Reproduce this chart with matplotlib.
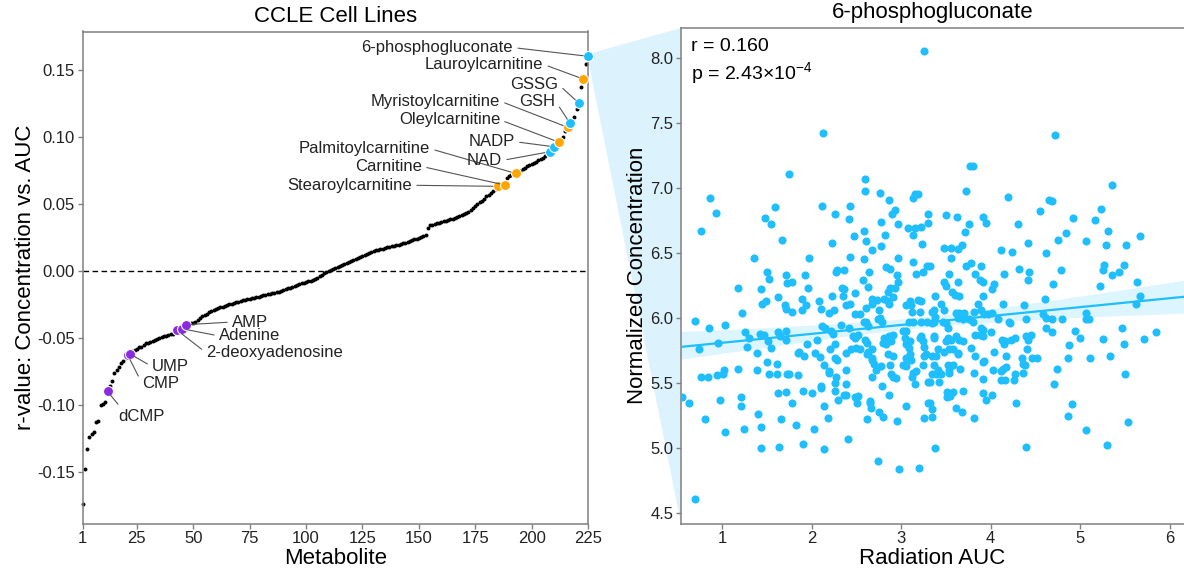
import matplotlib
matplotlib.use("Agg")
import matplotlib.pyplot as plt
from matplotlib.patches import Polygon
import numpy as np
import seaborn as sns

plt.rcParams['font.family'] = ['Liberation Sans', 'DejaVu Sans']
plt.rcParams['mathtext.fontset'] = 'custom'
plt.rcParams['mathtext.rm'] = 'Liberation Sans'

# sorted r-values (concentration vs radiation AUC), rank 1..225
r_values = [
    -0.174, -0.148, -0.133, -0.124, -0.122, -0.120, -0.113, -0.112, -0.100, -0.099,
    -0.098, -0.090, -0.086, -0.082, -0.076, -0.074, -0.0715, -0.069, -0.067, -0.065,
    -0.063, -0.062, -0.060, -0.059, -0.058, -0.057, -0.0565, -0.055, -0.054, -0.0535,
    -0.053, -0.052, -0.0515, -0.051, -0.050, -0.0495, -0.049, -0.0485, -0.048, -0.0475,
    -0.047, -0.046, -0.0445, -0.0440, -0.0432, -0.0415, -0.0402, -0.0398, -0.0393, -0.0388,
    -0.0382, -0.0370, -0.0355, -0.0340, -0.0330, -0.0320, -0.0310, -0.0300, -0.0290, -0.0285,
    -0.0280, -0.0272, -0.0268, -0.0262, -0.0256, -0.0250, -0.0245, -0.0240, -0.0236, -0.0231,
    -0.0226, -0.0221, -0.0216, -0.0212, -0.0208, -0.0204, -0.0200, -0.0196, -0.0192, -0.0188,
    -0.0184, -0.0180, -0.0176, -0.0172, -0.0168, -0.0164, -0.0160, -0.0155, -0.0150, -0.0143,
    -0.0137, -0.0131, -0.0125, -0.0118, -0.0111, -0.0104, -0.0099, -0.0094, -0.0089, -0.0084,
    -0.0079, -0.0073, -0.0066, -0.0060, -0.0050, -0.0040, -0.0030, -0.0020, -0.0010, 0.0000,
    0.0008, 0.0016, 0.0024, 0.0031, 0.0038, 0.0046, 0.0054, 0.0061, 0.0068, 0.0075,
    0.0082, 0.0090, 0.0098, 0.0105, 0.0112, 0.0120, 0.0128, 0.0136, 0.0143, 0.0150,
    0.0154, 0.0158, 0.0162, 0.0166, 0.0170, 0.0174, 0.0178, 0.0182, 0.0186, 0.0190,
    0.0195, 0.0200, 0.0206, 0.0211, 0.0217, 0.0222, 0.0228, 0.0234, 0.0240, 0.0246,
    0.0252, 0.0258, 0.0270, 0.0320, 0.0340, 0.0345, 0.0350, 0.0355, 0.0360, 0.0365,
    0.0370, 0.0375, 0.0380, 0.0385, 0.0390, 0.0395, 0.0400, 0.0408, 0.0414, 0.0420,
    0.0430, 0.0440, 0.0455, 0.0470, 0.0482, 0.0496, 0.0510, 0.0522, 0.0538, 0.0555,
    0.0568, 0.0582, 0.0598, 0.0612, 0.0630, 0.0632, 0.0636, 0.0640, 0.0690, 0.0708,
    0.0714, 0.0720, 0.0726, 0.0734, 0.0745, 0.0756, 0.0767, 0.0778, 0.0789, 0.0798,
    0.0806, 0.0815, 0.0823, 0.0832, 0.0845, 0.0858, 0.0870, 0.0888, 0.0902, 0.0925,
    0.0938, 0.0960, 0.0980, 0.1000, 0.1040, 0.1070, 0.1100, 0.1120, 0.1150, 0.1210,
    0.1250, 0.1370, 0.1430, 0.1540, 0.1600,
]

# highlighted metabolites: name, rank, group, label position (rank, r)
hl_names = ['dCMP', 'CMP', 'UMP', '2-deoxyadenosine', 'Adenine', 'AMP',
            'Stearoylcarnitine', 'Carnitine', 'Palmitoylcarnitine', 'NAD', 'NADP',
            'Oleylcarnitine', 'Myristoylcarnitine', 'GSH', 'GSSG',
            'Lauroylcarnitine', '6-phosphogluconate']
hl_ranks = [12, 21, 22, 43, 45, 47, 185, 188, 193, 208, 210, 212, 216, 217, 221, 223, 225]
hl_groups = ['nuc', 'nuc', 'nuc', 'nuc', 'nuc', 'nuc', 'carn', 'carn', 'carn', 'redox', 'redox',
             'carn', 'carn', 'redox', 'redox', 'carn', 'redox']
lab_x = [16.6, 27.3, 31.7, 55.7, 61.4, 67.2, 147.0, 151.4, 155.0, 186.9, 192.6,
         186.0, 186.0, 210.6, 211.9, 205.2, 191.8]
lab_y = [-0.1084, -0.0840, -0.0715, -0.0611, -0.0486, -0.0382, 0.0638, 0.0778, 0.0911, 0.0823, 0.0963,
         0.1126, 0.1266, 0.1266, 0.1390, 0.1540, 0.1665]
group_colors = {'nuc': '#8A2BE2', 'carn': '#FFA500', 'redox': '#1EBEFF'}

# 6-phosphogluconate: (radiation AUC, normalized concentration) per cell line
points = [
    (3.26, 8.05), (2.13, 7.42), (1.75, 7.11), (0.87, 6.92), (0.93, 6.81), (0.76, 6.67),
    (2.60, 7.07), (2.60, 6.98), (2.76, 6.96), (2.86, 6.91), (3.13, 6.92), (3.15, 6.95),
    (3.19, 6.95), (2.12, 6.86), (2.26, 6.80), (2.43, 6.86), (2.42, 6.76), (2.93, 6.83),
    (2.90, 6.80), (1.48, 6.77), (1.59, 6.85), (1.55, 6.72), (2.78, 6.74), (2.96, 6.72),
    (3.08, 6.69), (3.16, 6.69), (3.22, 6.70), (3.30, 6.80), (3.30, 6.73), (2.58, 6.67),
    (2.47, 6.63), (2.82, 6.64), (3.13, 6.64), (2.61, 6.59), (2.23, 6.58), (1.67, 6.60),
    (2.78, 6.55), (3.23, 6.57), (2.67, 6.52), (1.36, 6.46), (1.97, 6.46), (2.43, 6.47),
    (2.59, 6.45), (2.96, 6.46), (3.13, 6.43), (2.83, 6.39), (2.88, 6.38), (3.29, 6.40),
    (2.28, 6.37), (2.36, 6.37), (2.27, 6.35), (1.50, 6.35), (1.72, 6.33), (1.93, 6.33),
    (2.64, 6.35), (2.95, 6.33), (3.17, 6.34), (3.24, 6.35),
    (4.72, 7.41), (3.77, 7.17), (3.80, 7.17), (3.73, 6.98), (4.19, 6.93), (5.35, 7.02),
    (4.65, 6.91), (4.68, 6.90), (4.55, 6.82), (5.23, 6.84), (4.92, 6.77), (5.16, 6.75),
    (5.31, 6.67), (5.67, 6.63), (3.50, 6.79), (3.62, 6.78), (3.91, 6.78), (3.76, 6.72),
    (3.95, 6.73), (4.31, 6.72), (3.71, 6.66), (4.75, 6.60), (4.84, 6.65), (5.06, 6.59),
    (4.42, 6.58), (5.29, 6.56), (5.51, 6.56), (3.48, 6.54), (3.56, 6.54), (3.63, 6.53),
    (3.68, 6.56), (3.56, 6.46), (4.12, 6.52), (4.24, 6.51), (4.62, 6.50), (3.32, 6.40),
    (3.72, 6.40), (3.78, 6.42), (3.89, 6.40), (4.32, 6.38), (4.79, 6.37), (5.27, 6.41),
    (5.25, 6.37), (5.49, 6.41), (5.43, 6.35), (5.35, 6.33), (3.54, 6.34), (3.82, 6.34),
    (4.15, 6.34), (4.43, 6.35),
    (0.70, 4.61), (0.70, 5.98), (0.74, 5.76), (0.85, 5.92), (1.03, 5.95), (0.95, 5.81),
    (0.77, 5.55), (0.84, 5.55), (0.94, 5.56), (1.01, 5.57), (1.02, 5.60), (1.18, 5.61),
    (0.55, 5.39), (0.63, 5.35), (0.98, 5.37), (1.21, 5.39), (1.21, 5.32), (0.81, 5.22),
    (1.03, 5.12), (1.24, 5.15), (1.40, 5.26), (1.44, 5.16), (1.43, 5.00), (1.64, 5.01),
    (1.90, 5.03), (2.14, 4.99), (2.41, 5.07), (2.74, 4.90), (2.98, 4.84), (3.20, 4.85),
    (1.66, 5.22), (1.83, 5.18), (2.03, 5.15), (2.18, 5.23), (2.14, 5.32),
    (1.18, 6.23), (1.43, 6.22), (1.22, 6.04), (1.45, 6.11), (1.49, 6.13), (1.63, 6.16),
    (1.52, 6.30), (1.73, 6.27), (1.78, 6.28), (1.70, 6.10), (1.72, 6.07), (1.78, 6.05),
    (1.89, 6.15), (1.89, 6.06), (1.96, 6.23), (1.94, 6.10), (2.08, 6.13), (2.11, 6.07),
    (2.23, 6.17), (2.20, 6.04), (2.25, 6.06), (2.34, 6.23), (2.36, 6.22), (2.35, 6.17),
    (2.39, 6.10), (2.43, 6.11), (2.48, 6.19), (2.49, 6.03), (2.54, 6.03), (2.57, 6.29),
    (2.63, 6.24), (2.61, 6.08), (2.67, 6.15), (2.68, 6.11), (2.73, 6.14), (2.75, 6.06),
    (2.76, 6.00), (2.74, 5.99), (2.79, 5.97), (2.85, 6.20), (2.87, 6.11), (2.85, 6.13),
    (2.81, 6.15), (2.91, 6.16), (2.88, 6.23), (2.93, 6.23), (2.96, 6.28), (3.06, 6.10),
    (3.10, 6.13), (3.11, 6.10), (3.12, 6.05), (3.09, 5.97), (3.13, 5.97), (3.19, 6.14),
    (3.22, 6.13), (3.21, 6.05), (3.22, 5.97), (3.29, 5.97),
    (1.26, 5.89), (1.30, 5.85), (1.28, 5.78), (1.42, 5.88), (1.47, 5.87), (1.51, 5.82),
    (1.55, 5.77), (1.39, 5.73), (1.63, 5.89), (1.65, 5.86), (1.72, 5.90), (1.72, 5.83),
    (1.50, 5.66), (1.39, 5.60), (1.61, 5.65), (1.61, 5.57), (1.53, 5.57), (1.73, 5.57),
    (1.75, 5.57), (1.85, 5.56), (1.62, 5.42), (1.72, 5.43), (1.78, 5.35), (1.90, 5.44),
    (2.00, 5.42), (1.85, 5.73), (1.86, 5.74), (1.91, 5.71), (1.95, 5.80), (2.06, 5.83),
    (2.04, 5.73), (2.09, 5.70), (2.14, 5.64), (2.19, 5.59), (2.19, 5.58), (2.10, 5.48),
    (2.11, 5.46), (2.12, 5.94), (2.15, 5.92), (2.22, 5.90), (2.24, 5.88), (2.26, 5.80),
    (2.21, 5.76), (2.26, 5.69), (2.28, 5.68), (2.27, 5.55), (2.26, 5.50), (2.26, 5.44),
    (2.30, 5.37), (2.33, 5.95), (2.38, 5.60), (2.39, 5.49), (2.36, 5.41), (2.39, 5.41),
    (2.38, 5.73), (2.44, 5.76), (2.42, 5.92), (2.46, 5.86), (2.49, 5.85), (2.52, 5.87),
    (2.50, 5.77), (2.54, 5.76), (2.49, 5.39), (2.51, 5.35), (2.52, 5.40), (2.61, 5.97),
    (2.63, 5.94), (2.59, 5.97), (2.60, 5.83), (2.62, 5.81), (2.62, 5.72), (2.63, 5.74),
    (2.65, 5.36), (2.65, 5.35), (2.62, 5.22), (2.66, 5.31), (2.67, 5.76), (2.68, 5.69),
    (2.67, 5.68), (2.70, 5.65), (2.72, 5.60), (2.68, 5.55), (2.75, 5.28), (2.80, 5.24),
    (2.79, 5.48), (2.78, 5.63), (2.80, 5.81), (2.83, 5.80), (2.81, 5.85), (2.85, 5.83),
    (2.87, 5.86), (2.89, 5.82), (2.91, 5.87), (2.85, 5.72), (2.91, 5.71), (2.88, 5.64),
    (2.91, 5.55), (2.89, 5.57), (2.94, 5.54), (2.87, 5.41), (2.95, 5.21), (3.02, 5.90),
    (3.04, 5.85), (3.06, 5.90), (3.06, 5.80), (3.09, 5.77), (3.10, 5.82), (3.02, 5.64),
    (3.05, 5.63), (3.06, 5.69), (3.08, 5.68), (3.11, 5.68), (3.10, 5.72), (3.13, 5.58),
    (3.12, 5.55), (3.16, 5.49), (3.06, 5.32), (3.17, 5.59), (3.21, 5.85), (3.22, 5.86),
    (3.24, 5.82), (3.26, 5.78), (3.24, 5.64), (3.26, 5.71), (3.28, 5.72), (3.30, 5.51),
    (3.30, 5.35), (3.26, 5.23),
    (3.48, 6.28), (3.50, 6.25), (3.64, 6.28), (3.38, 6.17), (3.57, 6.20), (3.60, 6.18),
    (3.65, 6.17), (3.44, 6.11), (3.34, 6.05), (3.37, 6.06), (3.38, 6.01), (3.34, 5.96),
    (3.37, 5.97), (3.48, 6.06), (3.47, 5.97), (3.50, 5.96), (3.52, 5.92), (3.61, 6.04),
    (3.65, 6.04), (3.70, 6.04), (3.63, 6.00), (3.69, 5.99), (3.76, 5.99), (3.80, 5.97),
    (3.81, 6.05), (3.89, 6.06), (3.86, 6.11), (3.91, 6.17), (3.88, 6.29), (3.91, 6.28),
    (4.01, 6.22), (4.04, 6.26), (4.42, 6.29), (4.70, 6.26), (5.22, 6.25), (5.63, 6.28),
    (5.67, 6.17), (5.62, 6.11), (4.61, 6.15), (4.14, 6.11), (4.37, 6.10), (3.93, 6.03),
    (3.97, 6.03), (4.01, 6.04), (4.08, 5.99), (3.91, 5.91), (3.89, 5.92), (3.82, 5.87),
    (3.88, 5.87), (3.91, 5.86), (4.00, 5.89), (4.22, 5.96), (4.21, 5.97), (4.40, 5.99),
    (4.59, 6.03), (4.62, 6.00), (4.68, 5.99), (4.80, 5.99), (5.06, 6.04), (5.06, 5.99),
    (5.10, 5.99), (4.62, 5.92), (4.69, 5.89), (4.94, 5.90), (5.00, 5.85), (5.25, 5.84),
    (5.47, 5.92), (5.49, 5.80), (5.71, 5.84), (5.85, 5.89), (3.37, 5.86), (3.37, 5.85),
    (3.52, 5.85), (3.50, 5.82), (3.56, 5.83), (3.61, 5.86), (3.65, 5.83), (3.69, 5.82),
    (3.41, 5.76), (3.48, 5.74), (3.53, 5.76), (3.58, 5.76), (3.63, 5.73), (3.64, 5.72),
    (3.34, 5.71), (3.39, 5.71), (3.78, 5.77), (3.83, 5.71), (4.04, 5.74), (4.13, 5.83),
    (4.15, 5.80), (4.16, 5.82), (4.23, 5.83), (4.27, 5.85), (4.40, 5.86), (4.42, 5.83),
    (4.45, 5.87), (4.41, 5.76), (4.17, 5.71), (4.35, 5.69), (4.36, 5.65), (4.38, 5.64),
    (4.46, 5.69), (4.52, 5.69), (3.91, 5.66), (3.93, 5.67), (4.03, 5.60), (4.14, 5.61),
    (4.12, 5.59), (4.17, 5.62), (4.27, 5.57), (4.36, 5.58), (4.11, 5.52), (4.16, 5.52),
    (4.26, 5.52), (3.91, 5.53), (3.81, 5.58), (3.66, 5.61), (3.37, 5.64), (3.41, 5.60),
    (3.45, 5.57), (3.39, 5.57), (3.35, 5.57), (3.32, 5.51), (3.42, 5.51), (3.52, 5.64),
    (3.58, 5.64), (3.53, 5.60), (3.54, 5.58), (3.51, 5.43), (3.58, 5.43), (3.51, 5.39),
    (3.55, 5.40), (3.69, 5.44), (3.32, 5.35), (3.34, 5.30), (3.34, 5.24), (3.61, 5.31),
    (3.68, 5.28), (3.81, 5.23), (3.91, 5.42), (3.95, 5.37), (4.01, 5.41), (4.28, 5.35),
    (4.74, 5.61), (4.71, 5.49), (4.86, 5.69), (4.88, 5.79), (5.11, 5.69), (5.33, 5.71),
    (5.50, 5.57), (4.91, 5.34), (4.86, 5.25), (5.53, 5.20), (5.06, 5.14), (5.30, 5.02),
    (4.39, 5.01), (3.38, 5.00),
]
auc = np.array([p[0] for p in points])
conc = np.array([p[1] for p in points])

fig = plt.figure(figsize=(11.84, 5.71), dpi=100)
W, H = 1184, 571
ax1 = fig.add_axes([82.7 / W, 1 - 523.5 / H, 505.3 / W, 492 / H])
ax2 = fig.add_axes([681 / W, 1 - 523.5 / H, 503 / W, 495.5 / H])

spine_c = '#808080'

# ---- left panel: ranked r-values
ranks = np.arange(1, len(r_values) + 1)
r_arr = np.array(r_values)
ax1.axhline(0, color='black', ls='--', lw=1, dashes=(4, 2.5), zorder=1)
ax1.scatter(ranks, r_arr, s=8, color='black', linewidths=0, zorder=2, clip_on=False)
for name, rk, grp, tx, ty in zip(hl_names, hl_ranks, hl_groups, lab_x, lab_y):
    yv = r_arr[rk - 1]
    ax1.scatter([rk], [yv], s=52, color=group_colors[grp], edgecolors='white',
                linewidths=0.8, zorder=3, clip_on=False)
    left_side = tx < rk
    if name == 'dCMP':
        rp = (0.08, 1.0)
    else:
        rp = (1, 0.5) if left_side else (0, 0.5)
    ax1.annotate(name, xy=(rk, yv), xytext=(tx, ty), fontsize=12,
                 ha='right' if left_side else 'left', va='center', color='#222222',
                 arrowprops=dict(arrowstyle='-', color='#555555', lw=0.8,
                                 shrinkA=1.5, shrinkB=3.5, relpos=rp), zorder=4)

ax1.set_xlim(1, 225)
ax1.set_ylim(-0.1885, 0.1785)
ax1.set_xticks([1, 25, 50, 75, 100, 125, 150, 175, 200, 225])
ax1.set_yticks([-0.15, -0.10, -0.05, 0.00, 0.05, 0.10, 0.15])
ax1.yaxis.set_major_formatter(matplotlib.ticker.FormatStrFormatter('%.2f'))
ax1.set_title('CCLE Cell Lines', fontsize=16, pad=7)
ax1.set_xlabel('Metabolite', fontsize=16, labelpad=1)
ax1.set_ylabel('r-value: Concentration vs. AUC', fontsize=16, labelpad=1)

# ---- right panel: scatter with regression fit
ax2.set_xlim(0.542, 6.159)
ax2.set_ylim(4.42, 8.23)
sns.regplot(x=auc, y=conc, ax=ax2, color='#1EBEFF', ci=95, seed=0, truncate=False,
            scatter_kws=dict(s=34, alpha=1, linewidths=0, zorder=3),
            line_kws=dict(lw=1.6, zorder=4))
ax2.set_xlim(0.542, 6.159)
ax2.set_ylim(4.42, 8.23)
ax2.set_xticks([1, 2, 3, 4, 5, 6])
ax2.set_yticks([4.5, 5.0, 5.5, 6.0, 6.5, 7.0, 7.5, 8.0])
ax2.yaxis.set_major_formatter(matplotlib.ticker.FormatStrFormatter('%.1f'))
ax2.spines['right'].set_visible(False)
ax2.set_title('6-phosphogluconate', fontsize=16, pad=7)
ax2.set_xlabel('Radiation AUC', fontsize=16, labelpad=1)
ax2.set_ylabel('Normalized Concentration', fontsize=16, labelpad=2)
ax2.text(0.02, 0.962, 'r = 0.160', transform=ax2.transAxes, fontsize=14, va='center')
ax2.text(0.02, 0.908, r'p = 2.43×10$^{-4}$', transform=ax2.transAxes, fontsize=14, va='center')

for ax in (ax1, ax2):
    for sp in ax.spines.values():
        sp.set_color(spine_c)
        sp.set_linewidth(1.1)
    ax.tick_params(axis='both', labelsize=12, color=spine_c, length=3.5, width=1,
                   labelcolor='#222222', pad=2)

# ---- zoom cone linking the 6-phosphogluconate point to the right panel
to_fig = fig.transFigure.inverted()
p_top = to_fig.transform(ax1.transData.transform((225, 0.1617)))
p_bot = to_fig.transform(ax1.transData.transform((225, 0.1575)))
q_top = to_fig.transform(ax2.transAxes.transform((0, 1)))
q_bot = to_fig.transform(ax2.transAxes.transform((0, 0)))
cone = Polygon([p_top, q_top, q_bot, p_bot], closed=True, transform=fig.transFigure,
               facecolor='#DCF3FD', edgecolor='none', zorder=-1)
fig.patches.append(cone)

fig.savefig('out.png', dpi=100)
